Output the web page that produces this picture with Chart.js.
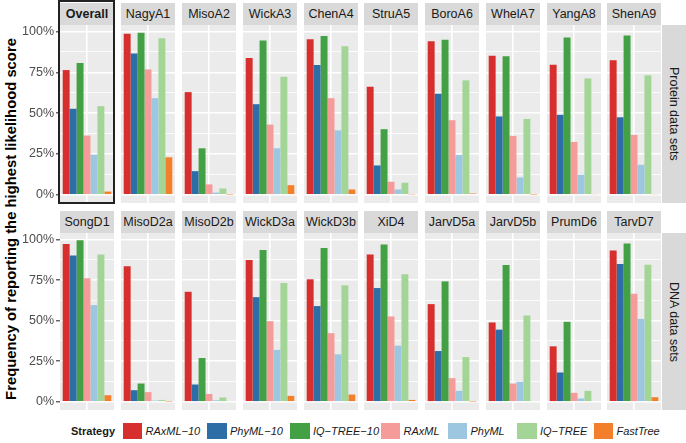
<!DOCTYPE html>
<html>
<head>
<meta charset="utf-8">
<script src="https://cdn.jsdelivr.net/npm/chart.js@4.4.1/dist/chart.umd.min.js"></script>
<style>
  body { margin: 0; background: #fff; font-family: "Liberation Sans", Arial, sans-serif; }
  #page { position: relative; width: 686px; height: 443px; overflow: hidden; }
  .panel { position: absolute; }
  .strip { position: absolute; background: #d9d9d9; color: #1a1a1a; font-size: 12.5px;
           text-align: center; line-height: 22px; height: 22px; }
  .rstrip { position: absolute; left: 662px; width: 24px; background: #d9d9d9; color: #1a1a1a;
            font-size: 12.5px; writing-mode: vertical-rl; display: flex; align-items: center;
            justify-content: center; }
  #ytitle { position: absolute; left: 11px; top: 219px; transform: translate(-50%, -50%) rotate(-90deg);
            white-space: nowrap; font-weight: bold; font-size: 14.8px; color: #000; }
  #overallBox { position: absolute; left: 58px; top: 0; width: 57px; height: 204px;
                border: 2.5px solid #222; box-sizing: border-box; }
  .legend { position: absolute; top: 422.5px; height: 16px; font-size: 11px; line-height: 16px;
            color: #1a1a1a; white-space: nowrap; }
  .key { position: absolute; top: 422.5px; width: 19.5px; height: 16px; }
</style>
</head>
<body>
<div id="page">
  <div id="ytitle">Frequency of reporting the highest likelihood score</div>
</div>
<script>
// facets
const proteinSets = ['Overall', 'NagyA1', 'MisoA2', 'WickA3', 'ChenA4', 'StruA5', 'BoroA6', 'WhelA7', 'YangA8', 'ShenA9'];
const dnaSets = ['SongD1', 'MisoD2a', 'MisoD2b', 'WickD3a', 'WickD3b', 'XiD4', 'JarvD5a', 'JarvD5b', 'PrumD6', 'TarvD7'];
const rowLabels = ['Protein data sets', 'DNA data sets'];
const strategies = ['RAxML\u221210', 'PhyML\u221210', 'IQ\u2212TREE\u221210', 'RAxML', 'PhyML', 'IQ\u2212TREE', 'FastTree'];

// % of runs per data set (protein sets first, then DNA sets)
const raxml10   = [76.4, 98.6, 62.9, 83.8, 95.3, 66.2, 94.1, 85.2, 79.7, 82.4,  97.3, 83.5, 67.8, 87.4, 75.5, 90.7, 60.2, 48.9, 34.2, 93.2];
const phyml10   = [52.7, 86.5, 14.5, 55.5, 79.5, 18.0, 61.9, 48.0, 49.0, 47.5,  90.1,  7.2, 10.7, 64.5, 59.0, 70.1, 31.3, 44.5, 18.1, 84.9];
const iqtree10  = [80.7, 99.2, 28.5, 94.5, 97.3, 40.2, 94.9, 84.8, 96.3, 97.5,  99.6, 11.3, 27.0, 93.6, 94.8, 96.9, 74.2, 84.3, 49.3, 97.5];
const raxml     = [36.3, 76.8,  6.4, 43.0, 59.2,  8.0, 45.7, 36.1, 32.4, 36.7,  76.1,  6.0,  4.9, 49.7, 42.3, 52.6, 14.6, 11.3,  5.6, 66.6];
const phyml     = [24.6, 59.2,  1.4, 28.5, 39.5,  3.3, 24.4, 10.7, 12.3, 18.4,  59.6,  0.8,  1.0, 32.0, 29.3, 34.6,  6.8, 12.4,  2.1, 51.1];
const iqtree    = [54.3, 95.9,  3.9, 72.3, 91.0,  7.4, 70.1, 46.5, 71.3, 73.2,  90.7,  1.2,  2.7, 73.2, 71.8, 78.6, 27.6, 53.2,  6.8, 84.5];
const fasttree  = [ 2.0, 23.0,  0.2,  5.9,  3.3,  0.3,  0.8,  0.2,  0.4,  0.4,   4.1,  0.2,  0.0,  3.7,  4.5,  1.2,  0.2,  0.0,  0.0,  2.9];

const yTicks = [0, 25, 50, 75, 100];
const yMinor = [12.5, 37.5, 62.5, 87.5];
const yTickLabels = ['0%', '25%', '50%', '75%', '100%'];

const series = [raxml10, phyml10, iqtree10, raxml, phyml, iqtree, fasttree];
const colors = ['#d62f2e', '#2e6ea6', '#43a044', '#f59b9a', '#9dc7e0', '#a3d696', '#f47f2b'];

const page = document.getElementById('page');
const rows = [
  { sets: proteinSets, top: 25, height: 178, stripTop: 3 },
  { sets: dnaSets, top: 233, height: 177, stripTop: 211 }
];
const panelW = 54;
const gridAll = yTicks.concat(yMinor).sort((a, b) => a - b);

rows.forEach((row, r) => {
  row.sets.forEach((name, i) => {
    const idx = r * 10 + i;
    const left = Math.round(60.3 + i * 60.8);
    const first = i === 0;
    const axisW = first ? left : 0;

    const strip = document.createElement('div');
    strip.className = 'strip';
    strip.style.left = left + 'px';
    strip.style.width = panelW + 'px';
    strip.style.top = row.stripTop + 'px';
    strip.textContent = name;
    if (name === 'Overall') strip.style.fontWeight = 'bold';
    page.appendChild(strip);

    const holder = document.createElement('div');
    holder.className = 'panel';
    holder.style.left = (left - axisW) + 'px';
    holder.style.top = row.top + 'px';
    const cv = document.createElement('canvas');
    cv.width = panelW + axisW;
    cv.height = row.height;
    holder.appendChild(cv);
    page.appendChild(holder);

    new Chart(cv, {
      type: 'bar',
      data: {
        labels: [name],
        datasets: strategies.map((s, k) => ({
          label: s,
          data: [series[k][idx]],
          backgroundColor: colors[k],
          borderWidth: 0,
          categoryPercentage: 0.9,
          barPercentage: 1.0
        }))
      },
      options: {
        responsive: false,
        animation: false,
        events: [],
        layout: { padding: 0, autoPadding: false },
        plugins: { legend: { display: false }, tooltip: { enabled: false } },
        scales: {
          x: {
            grid: { color: '#ffffff', lineWidth: 1.6, offset: false, drawTicks: false },
            border: { display: false },
            ticks: { display: false },
            afterFit: s => { s.height = 0; s.paddingLeft = 0; s.paddingRight = 0; }
          },
          y: {
            min: -5, max: 104,
            afterBuildTicks: s => { s.ticks = gridAll.map(v => ({ value: v })); },
            grid: {
              color: '#ffffff',
              lineWidth: c => (yTicks.includes(c.tick && c.tick.value) ? 1.6 : 0.8),
              drawTicks: first,
              tickLength: 4,
              tickColor: c => (yTicks.includes(c.tick && c.tick.value) ? '#333333' : 'rgba(0,0,0,0)'),
              tickWidth: 1.1
            },
            border: { display: false },
            ticks: {
              display: first,
              padding: 2,
              color: '#4d4d4d',
              font: { family: '"Liberation Sans", Arial, sans-serif', size: 12.5 },
              callback: v => { const j = yTicks.indexOf(v); return j >= 0 ? yTickLabels[j] : ''; }
            },
            afterFit: s => { s.width = axisW; s.paddingTop = 0; s.paddingBottom = 0; }
          }
        }
      },
      plugins: [{
        id: 'panelBg',
        beforeDraw: ch => {
          const a = ch.chartArea, g = ch.ctx;
          g.save();
          g.fillStyle = '#ebebeb';
          g.fillRect(a.left, a.top, a.right - a.left, a.bottom - a.top);
          g.restore();
        }
      }]
    });
  });

  const rs = document.createElement('div');
  rs.className = 'rstrip';
  rs.style.top = row.top + 'px';
  rs.style.height = row.height + 'px';
  rs.textContent = rowLabels[r];
  page.appendChild(rs);
});

const box = document.createElement('div');
box.id = 'overallBox';
page.appendChild(box);

// legend
const title = document.createElement('div');
title.className = 'legend';
title.style.left = '71px';
title.style.fontWeight = 'bold';
title.textContent = 'Strategy';
page.appendChild(title);
const keyX = [122.5, 207, 290, 380.5, 447.5, 517, 593.5];
strategies.forEach((s, k) => {
  const key = document.createElement('div');
  key.className = 'key';
  key.style.left = keyX[k] + 'px';
  key.style.background = colors[k];
  page.appendChild(key);
  const lab = document.createElement('div');
  lab.className = 'legend';
  lab.style.left = (keyX[k] + 23) + 'px';
  lab.style.fontStyle = 'italic';
  lab.textContent = s;
  page.appendChild(lab);
});
</script>
</body>
</html>
